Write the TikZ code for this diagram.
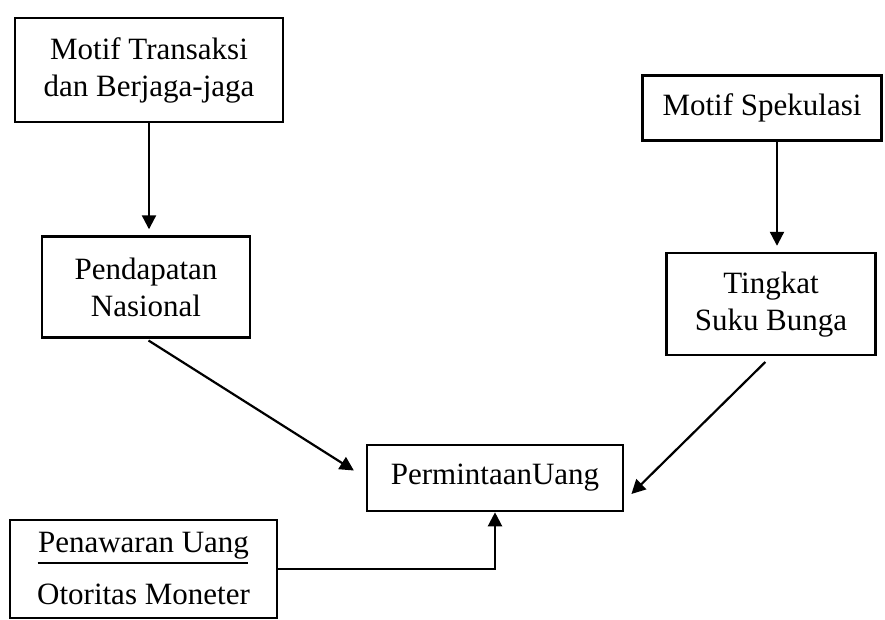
\documentclass[tikz,border=0pt]{standalone}
\usepackage{fontspec}
\setmainfont{Liberation Serif}
\usetikzlibrary{positioning,arrows.meta}
\tikzset{>={Triangle[length=7pt,width=7pt]}}
\tikzset{
  box/.style={draw, rectangle, line width=1.3pt, align=center, inner sep=0pt,
    font=\fontsize{15.5}{18.5}\selectfont},
  link/.style={->, line width=1.1pt}
}

\begin{document}
\begin{tikzpicture}[x=0.5pt,y=-0.5pt]
  \useasboundingbox (0,0) rectangle (885,620);

  % Nodes
  \node[box, minimum width=134pt, minimum height=52pt] (motiftr) at (149,70) {Motif Transaksi\\dan Berjaga-jaga};
  \node[box, minimum width=104pt, minimum height=50.5pt, below=56pt of motiftr, xshift=-1.5pt] (pendapatan) {Pendapatan\\Nasional};
  \node[box, minimum width=119.5pt, minimum height=32.5pt] (motifspek) at (762,108) {Motif Spekulasi};
  \node[box, minimum width=104.5pt, minimum height=51pt, below=55pt of motifspek, xshift=4.5pt] (tingkat) {Tingkat\\Suku Bunga};
  \node[box, minimum width=128pt, minimum height=33pt] (permintaan) at (495,478) {PermintaanUang};
  \node[box, minimum width=133.5pt, minimum height=49pt] (penawaran) at (143.5,569) {Penawaran Uang\\[7.5pt]Otoritas Moneter};
  \draw[line width=1.1pt] ([xshift=-53pt,yshift=3pt]penawaran.center) -- ([xshift=52pt,yshift=3pt]penawaran.center);

  % Edges
  \draw[link, shorten >=3pt] (motiftr.south) -- (motiftr.south |- pendapatan.north);
  \coordinate (spekout) at ([xshift=7.5pt]motifspek.south);
  \draw[link, shorten >=3pt] (spekout) -- (spekout |- tingkat.north);
  \draw[link, shorten <=1.5pt, shorten >=7pt] (pendapatan.south) -- (permintaan.west);
  \draw[link, shorten <=4pt, shorten >=5pt] (tingkat.south) -- ([yshift=-11.5pt]permintaan.east);
  \draw[link] (penawaran.east) -| (permintaan.south);

\end{tikzpicture}
\end{document}
